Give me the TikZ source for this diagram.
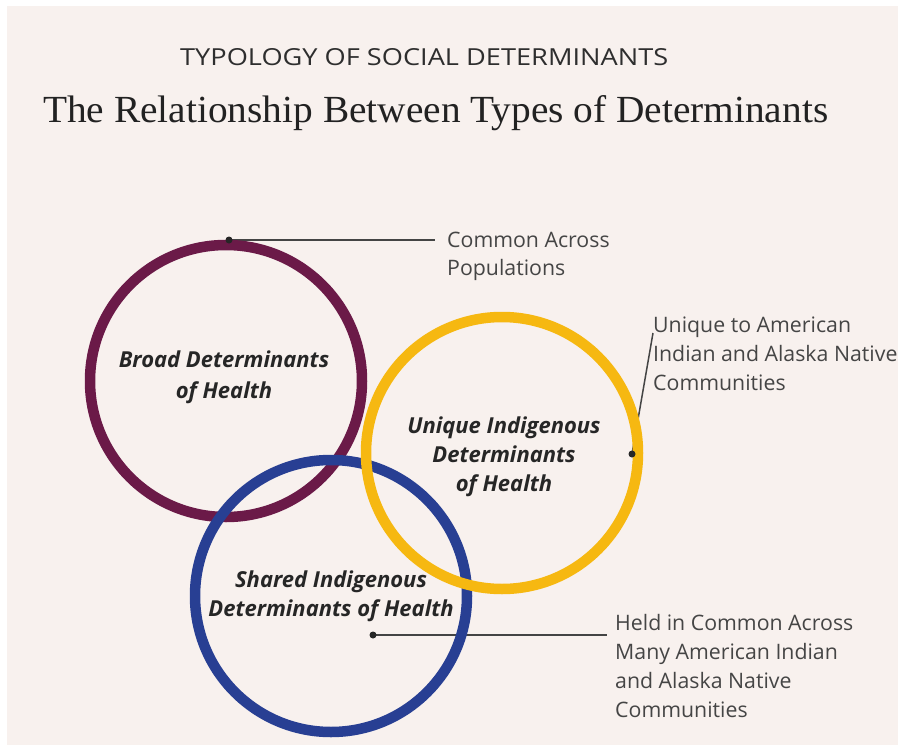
\documentclass[tikz,border=0pt]{standalone}
\usepackage{fontspec}
\setmainfont{Open Sans}
\newfontfamily\serifttl{Liberation Serif}
\usepackage{graphicx}
\definecolor{bgpink}{HTML}{F8F1EE}
\definecolor{cpurple}{HTML}{6B1A48}
\definecolor{cyellow}{HTML}{F6B811}
\definecolor{cblue}{HTML}{283F93}
\definecolor{subgray}{HTML}{2E2E2E}
\definecolor{titlegray}{HTML}{222222}
\definecolor{notegray}{HTML}{454545}
\definecolor{labelgray}{HTML}{262626}
\definecolor{linegray}{HTML}{444444}
\begin{document}
\begin{tikzpicture}[x=1pt,y=-1pt,
  ring/.style={line width=10.5pt},
  leader/.style={draw=linegray, line width=1.5pt},
  dotnode/.style={circle, fill=labelgray, inner sep=0pt, minimum size=7pt},
  circlabel/.style={anchor=base, inner sep=0pt, text=labelgray,
    font=\fontsize{22}{26}\selectfont\bfseries\itshape},
  note/.style={anchor=base west, inner sep=0pt, text=notegray,
    font=\fontsize{21.3}{29}\selectfont}]
\useasboundingbox (0,0) rectangle (898,747);
\fill[white] (0,0) rectangle (898,747);
\fill[bgpink] (7,6) rectangle (898,745);

% titles
\node[anchor=base west, inner sep=0pt] (sub) at (180,65)
  {\resizebox{488pt}{17pt}{\color{subgray}TYPOLOGY OF SOCIAL DETERMINANTS}};
\node[anchor=base west, inner sep=0pt] (title) at (43,122)
  {\resizebox{785pt}{27pt}{\color{titlegray}\serifttl The Relationship Between Types of Determinants}};

% circle centres
\coordinate (cb) at (226,381);
\coordinate (cu) at (502,453);
\coordinate (cs) at (331,596);

% leader lines (under the rings)
\coordinate (d1) at (229,240);
\coordinate (e1) at (435,240);
\coordinate (d2) at (632,454);
\coordinate (e2) at (653,333);
\coordinate (d3) at (373,635);
\coordinate (e3) at (607,635);
\draw[leader] (d1) -- (e1);
\draw[leader] (d2) -- (e2);
\draw[leader] (d3) -- (e3);

% rings
\draw[ring, cpurple] (cb) circle (136);
\draw[ring, cblue] (cs) circle (136);
\draw[ring, cyellow] (cu) circle (136);

% dots
\node[dotnode] (p1) at (d1) {};
\node[dotnode] (p2) at (d2) {};
\node[dotnode] (p3) at (d3) {};

% circle labels
\node[circlabel] (b1) at (224,367) {Broad Determinants};
\node[circlabel] (b2) at (224,398) {of Health};
\node[circlabel] (u1) at (504,433) {Unique Indigenous};
\node[circlabel] (u2) at (504,462) {Determinants};
\node[circlabel] (u3) at (504,491) {of Health};
\node[circlabel] (s1) at (331,587) {Shared Indigenous};
\node[circlabel] (s2) at (331,616) {Determinants of Health};

% notes
\node[note] (n1a) at (447,247) {Common Across};
\node[note] (n1b) at (447,275) {Populations};
\node[note] (n2a) at (653,332) {Unique to American};
\node[note] (n2b) at (653,361) {Indian and Alaska Native};
\node[note] (n2c) at (653,390) {Communities};
\node[note] (n3a) at (615,630) {Held in Common Across};
\node[note] (n3b) at (615,659) {Many American Indian};
\node[note] (n3c) at (615,688) {and Alaska Native};
\node[note] (n3d) at (615,717) {Communities};
\end{tikzpicture}
\end{document}
